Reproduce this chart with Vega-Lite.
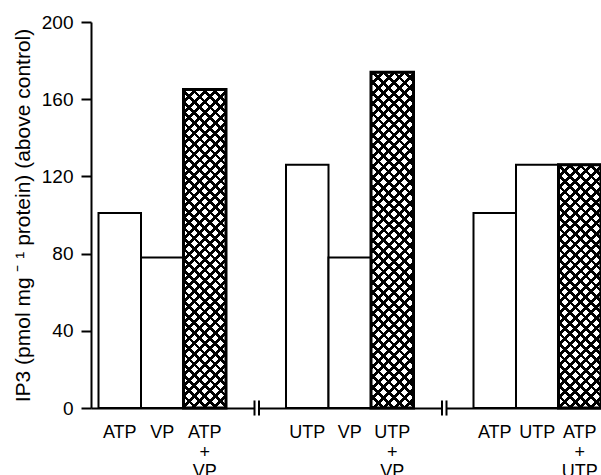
{
  "$schema": "https://vega.github.io/schema/vega-lite/v6.json",
  "width": 510,
  "height": 386,
  "autosize": {"type": "none"},
  "padding": {"left": 91, "top": 22, "right": 0, "bottom": 67},
  "background": "white",
  "config": {
    "font": "Liberation Sans",
    "view": {"stroke": null},
    "axis": {"grid": false, "domainColor": "black", "tickColor": "black", "labelColor": "black", "titleColor": "black"},
    "axisY": {"labelFontSize": 19, "labelPadding": 8, "titleFontSize": 21, "titleFontWeight": "normal"}
  },
  "params": [
    {"name": "hatch", "value": [
      {"offset":0,"color":"#000"},{"offset":0.01027,"color":"#000"},{"offset":0.01027,"color":"rgba(0,0,0,0)"},{"offset":0.02703,"color":"rgba(0,0,0,0)"},
      {"offset":0.02703,"color":"#000"},{"offset":0.03730,"color":"#000"},{"offset":0.03730,"color":"rgba(0,0,0,0)"},{"offset":0.05405,"color":"rgba(0,0,0,0)"},
      {"offset":0.05405,"color":"#000"},{"offset":0.06432,"color":"#000"},{"offset":0.06432,"color":"rgba(0,0,0,0)"},{"offset":0.08108,"color":"rgba(0,0,0,0)"},
      {"offset":0.08108,"color":"#000"},{"offset":0.09135,"color":"#000"},{"offset":0.09135,"color":"rgba(0,0,0,0)"},{"offset":0.10811,"color":"rgba(0,0,0,0)"},
      {"offset":0.10811,"color":"#000"},{"offset":0.11838,"color":"#000"},{"offset":0.11838,"color":"rgba(0,0,0,0)"},{"offset":0.13514,"color":"rgba(0,0,0,0)"},
      {"offset":0.13514,"color":"#000"},{"offset":0.14541,"color":"#000"},{"offset":0.14541,"color":"rgba(0,0,0,0)"},{"offset":0.16216,"color":"rgba(0,0,0,0)"},
      {"offset":0.16216,"color":"#000"},{"offset":0.17243,"color":"#000"},{"offset":0.17243,"color":"rgba(0,0,0,0)"},{"offset":0.18919,"color":"rgba(0,0,0,0)"},
      {"offset":0.18919,"color":"#000"},{"offset":0.19946,"color":"#000"},{"offset":0.19946,"color":"rgba(0,0,0,0)"},{"offset":0.21622,"color":"rgba(0,0,0,0)"},
      {"offset":0.21622,"color":"#000"},{"offset":0.22649,"color":"#000"},{"offset":0.22649,"color":"rgba(0,0,0,0)"},{"offset":0.24324,"color":"rgba(0,0,0,0)"},
      {"offset":0.24324,"color":"#000"},{"offset":0.25351,"color":"#000"},{"offset":0.25351,"color":"rgba(0,0,0,0)"},{"offset":0.27027,"color":"rgba(0,0,0,0)"},
      {"offset":0.27027,"color":"#000"},{"offset":0.28054,"color":"#000"},{"offset":0.28054,"color":"rgba(0,0,0,0)"},{"offset":0.29730,"color":"rgba(0,0,0,0)"},
      {"offset":0.29730,"color":"#000"},{"offset":0.30757,"color":"#000"},{"offset":0.30757,"color":"rgba(0,0,0,0)"},{"offset":0.32432,"color":"rgba(0,0,0,0)"},
      {"offset":0.32432,"color":"#000"},{"offset":0.33459,"color":"#000"},{"offset":0.33459,"color":"rgba(0,0,0,0)"},{"offset":0.35135,"color":"rgba(0,0,0,0)"},
      {"offset":0.35135,"color":"#000"},{"offset":0.36162,"color":"#000"},{"offset":0.36162,"color":"rgba(0,0,0,0)"},{"offset":0.37838,"color":"rgba(0,0,0,0)"},
      {"offset":0.37838,"color":"#000"},{"offset":0.38865,"color":"#000"},{"offset":0.38865,"color":"rgba(0,0,0,0)"},{"offset":0.40541,"color":"rgba(0,0,0,0)"},
      {"offset":0.40541,"color":"#000"},{"offset":0.41568,"color":"#000"},{"offset":0.41568,"color":"rgba(0,0,0,0)"},{"offset":0.43243,"color":"rgba(0,0,0,0)"},
      {"offset":0.43243,"color":"#000"},{"offset":0.44270,"color":"#000"},{"offset":0.44270,"color":"rgba(0,0,0,0)"},{"offset":0.45946,"color":"rgba(0,0,0,0)"},
      {"offset":0.45946,"color":"#000"},{"offset":0.46973,"color":"#000"},{"offset":0.46973,"color":"rgba(0,0,0,0)"},{"offset":0.48649,"color":"rgba(0,0,0,0)"},
      {"offset":0.48649,"color":"#000"},{"offset":0.49676,"color":"#000"},{"offset":0.49676,"color":"rgba(0,0,0,0)"},{"offset":0.51351,"color":"rgba(0,0,0,0)"},
      {"offset":0.51351,"color":"#000"},{"offset":0.52378,"color":"#000"},{"offset":0.52378,"color":"rgba(0,0,0,0)"},{"offset":0.54054,"color":"rgba(0,0,0,0)"},
      {"offset":0.54054,"color":"#000"},{"offset":0.55081,"color":"#000"},{"offset":0.55081,"color":"rgba(0,0,0,0)"},{"offset":0.56757,"color":"rgba(0,0,0,0)"},
      {"offset":0.56757,"color":"#000"},{"offset":0.57784,"color":"#000"},{"offset":0.57784,"color":"rgba(0,0,0,0)"},{"offset":0.59459,"color":"rgba(0,0,0,0)"},
      {"offset":0.59459,"color":"#000"},{"offset":0.60486,"color":"#000"},{"offset":0.60486,"color":"rgba(0,0,0,0)"},{"offset":0.62162,"color":"rgba(0,0,0,0)"},
      {"offset":0.62162,"color":"#000"},{"offset":0.63189,"color":"#000"},{"offset":0.63189,"color":"rgba(0,0,0,0)"},{"offset":0.64865,"color":"rgba(0,0,0,0)"},
      {"offset":0.64865,"color":"#000"},{"offset":0.65892,"color":"#000"},{"offset":0.65892,"color":"rgba(0,0,0,0)"},{"offset":0.67568,"color":"rgba(0,0,0,0)"},
      {"offset":0.67568,"color":"#000"},{"offset":0.68595,"color":"#000"},{"offset":0.68595,"color":"rgba(0,0,0,0)"},{"offset":0.70270,"color":"rgba(0,0,0,0)"},
      {"offset":0.70270,"color":"#000"},{"offset":0.71297,"color":"#000"},{"offset":0.71297,"color":"rgba(0,0,0,0)"},{"offset":0.72973,"color":"rgba(0,0,0,0)"},
      {"offset":0.72973,"color":"#000"},{"offset":0.74000,"color":"#000"},{"offset":0.74000,"color":"rgba(0,0,0,0)"},{"offset":0.75676,"color":"rgba(0,0,0,0)"},
      {"offset":0.75676,"color":"#000"},{"offset":0.76703,"color":"#000"},{"offset":0.76703,"color":"rgba(0,0,0,0)"},{"offset":0.78378,"color":"rgba(0,0,0,0)"},
      {"offset":0.78378,"color":"#000"},{"offset":0.79405,"color":"#000"},{"offset":0.79405,"color":"rgba(0,0,0,0)"},{"offset":0.81081,"color":"rgba(0,0,0,0)"},
      {"offset":0.81081,"color":"#000"},{"offset":0.82108,"color":"#000"},{"offset":0.82108,"color":"rgba(0,0,0,0)"},{"offset":0.83784,"color":"rgba(0,0,0,0)"},
      {"offset":0.83784,"color":"#000"},{"offset":0.84811,"color":"#000"},{"offset":0.84811,"color":"rgba(0,0,0,0)"},{"offset":0.86486,"color":"rgba(0,0,0,0)"},
      {"offset":0.86486,"color":"#000"},{"offset":0.87513,"color":"#000"},{"offset":0.87513,"color":"rgba(0,0,0,0)"},{"offset":0.89189,"color":"rgba(0,0,0,0)"},
      {"offset":0.89189,"color":"#000"},{"offset":0.90216,"color":"#000"},{"offset":0.90216,"color":"rgba(0,0,0,0)"},{"offset":0.91892,"color":"rgba(0,0,0,0)"},
      {"offset":0.91892,"color":"#000"},{"offset":0.92919,"color":"#000"},{"offset":0.92919,"color":"rgba(0,0,0,0)"},{"offset":0.94595,"color":"rgba(0,0,0,0)"},
      {"offset":0.94595,"color":"#000"},{"offset":0.95622,"color":"#000"},{"offset":0.95622,"color":"rgba(0,0,0,0)"},{"offset":0.97297,"color":"rgba(0,0,0,0)"},
      {"offset":0.97297,"color":"#000"},{"offset":0.98324,"color":"#000"},{"offset":0.98324,"color":"rgba(0,0,0,0)"},{"offset":1,"color":"rgba(0,0,0,0)"}
    ]}
  ],
  "data": {"values": [
    {"group": "ATP/VP", "role": "A", "label": "ATP", "value": 101},
    {"group": "ATP/VP", "role": "B", "label": "VP", "value": 78},
    {"group": "ATP/VP", "role": "A+B", "label": "ATP\n+\nVP", "value": 165},
    {"group": "UTP/VP", "role": "A", "label": "UTP", "value": 126},
    {"group": "UTP/VP", "role": "B", "label": "VP", "value": 78},
    {"group": "UTP/VP", "role": "A+B", "label": "UTP\n+\nVP", "value": 174},
    {"group": "ATP/UTP", "role": "A", "label": "ATP", "value": 101},
    {"group": "ATP/UTP", "role": "B", "label": "UTP", "value": 126},
    {"group": "ATP/UTP", "role": "A+B", "label": "ATP\n+\nUTP", "value": 126}
  ]},
  "encoding": {
    "x": {
      "field": "group", "type": "nominal", "sort": ["ATP/VP", "UTP/VP", "ATP/UTP"],
      "scale": {"type": "band", "paddingInner": 0.32, "paddingOuter": 0.02, "align": 1},
      "axis": {"title": null, "labels": false, "ticks": false, "domain": true, "domainWidth": 2, "domainColor": "black"}
    }
  },
  "layer": [
    {
      "mark": {"type": "bar", "fill": "white", "stroke": "black", "strokeWidth": 2},
      "encoding": {
        "xOffset": {"field": "role", "type": "nominal", "sort": ["A", "B", "A+B"], "scale": {"paddingInner": 0, "paddingOuter": 0}},
        "y": {
          "field": "value", "type": "quantitative",
          "scale": {"domain": [0, 200], "nice": false, "zero": true},
          "axis": {
            "values": [0, 40, 80, 120, 160, 200],
            "title": "IP3 (pmol mg ⁻ ¹ protein) (above control)",
            "titlePadding": 8,
            "tickSize": 10, "tickWidth": 2, "domainWidth": 2
          }
        }
      }
    },
    {
      "transform": [{"filter": "datum.role == 'A+B'"}],
      "mark": {"type": "bar", "strokeWidth": 0,
        "fill": {"expr": "{gradient: 'linear', x1: 0, y1: 0, x2: 42.5*388.5/(1806.25+pow(datum.value*1.93,2)), y2: datum.value*1.93*388.5/(1806.25+pow(datum.value*1.93,2)), stops: hatch}"}},
      "encoding": {
        "xOffset": {"field": "role", "type": "nominal", "sort": ["A", "B", "A+B"]},
        "y": {"field": "value", "type": "quantitative"}
      }
    },
    {
      "transform": [{"filter": "datum.role == 'A+B'"}],
      "mark": {"type": "bar", "stroke": "black", "strokeWidth": 3,
        "fill": {"expr": "{gradient: 'linear', x1: 0, y1: 1, x2: 42.5*388.5/(1806.25+pow(datum.value*1.93,2)), y2: 1 - datum.value*1.93*388.5/(1806.25+pow(datum.value*1.93,2)), stops: hatch}"}},
      "encoding": {
        "xOffset": {"field": "role", "type": "nominal", "sort": ["A", "B", "A+B"]},
        "y": {"field": "value", "type": "quantitative"}
      }
    },
    {
      "mark": {"type": "text", "align": "center", "baseline": "alphabetic", "dy": 30, "fontSize": 18, "lineHeight": 19.5, "lineBreak": "\n", "color": "black"},
      "encoding": {
        "xOffset": {"field": "role", "type": "nominal", "sort": ["A", "B", "A+B"]},
        "y": {"datum": 0, "type": "quantitative"},
        "text": {"field": "label"}
      }
    },
    {
      "transform": [{"filter": "datum.role == 'A' && datum.group != 'ATP/VP'"}],
      "mark": {"type": "rule", "color": "white", "strokeWidth": 3.5, "xOffset": -29.2},
      "encoding": {
        "x": {"field": "group", "type": "nominal", "sort": ["ATP/VP", "UTP/VP", "ATP/UTP"], "bandPosition": 0},
        "y": {"datum": -1.5, "type": "quantitative"},
        "y2": {"datum": 1.5}
      }
    },
    {
      "transform": [{"filter": "datum.role == 'A' && datum.group != 'ATP/VP'"}],
      "mark": {"type": "rule", "color": "black", "strokeWidth": 2, "xOffset": -31.5},
      "encoding": {
        "x": {"field": "group", "type": "nominal", "sort": ["ATP/VP", "UTP/VP", "ATP/UTP"], "bandPosition": 0},
        "y": {"datum": -3.9, "type": "quantitative"},
        "y2": {"datum": 3.9}
      }
    },
    {
      "transform": [{"filter": "datum.role == 'A' && datum.group != 'ATP/VP'"}],
      "mark": {"type": "rule", "color": "black", "strokeWidth": 2, "xOffset": -27},
      "encoding": {
        "x": {"field": "group", "type": "nominal", "sort": ["ATP/VP", "UTP/VP", "ATP/UTP"], "bandPosition": 0},
        "y": {"datum": -3.9, "type": "quantitative"},
        "y2": {"datum": 3.9}
      }
    }
  ]
}
